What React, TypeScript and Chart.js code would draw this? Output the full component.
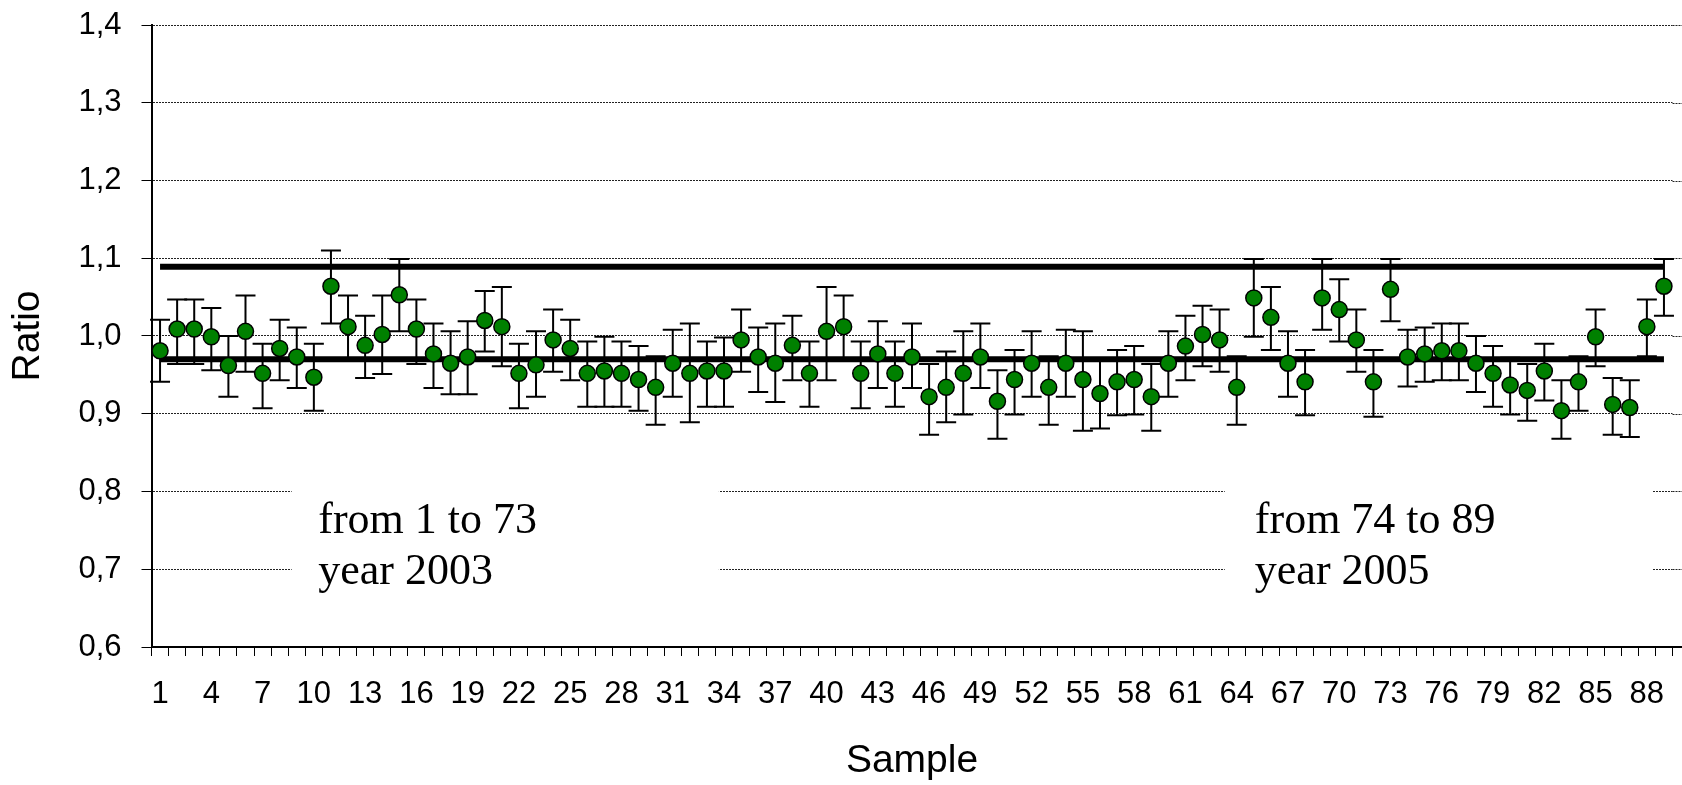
import React, { useEffect, useRef } from 'react';
import { Chart, registerables } from 'chart.js';

Chart.register(...registerables);

const samples: string[] = [
  '1', '2', '3', '4', '5', '6', '7', '8', '9', '10',
  '11', '12', '13', '14', '15', '16', '17', '18', '19', '20',
  '21', '22', '23', '24', '25', '26', '27', '28', '29', '30',
  '31', '32', '33', '34', '35', '36', '37', '38', '39', '40',
  '41', '42', '43', '44', '45', '46', '47', '48', '49', '50',
  '51', '52', '53', '54', '55', '56', '57', '58', '59', '60',
  '61', '62', '63', '64', '65', '66', '67', '68', '69', '70',
  '71', '72', '73', '74', '75', '76', '77', '78', '79', '80',
  '81', '82', '83', '84', '85', '86', '87', '88', '89',
];

const ratio: number[] = [
  0.981, 1.009, 1.009, 0.999, 0.962, 1.006, 0.952, 0.984, 0.973, 0.947,
  1.064, 1.012, 0.988, 1.002, 1.053, 1.009, 0.977, 0.965, 0.973, 1.020,
  1.012, 0.952, 0.963, 0.995, 0.984, 0.952, 0.955, 0.952, 0.944, 0.934,
  0.965, 0.952, 0.955, 0.955, 0.995, 0.973, 0.965, 0.988, 0.952, 1.006,
  1.012, 0.952, 0.977, 0.952, 0.973, 0.922, 0.934, 0.952, 0.973, 0.916,
  0.944, 0.965, 0.934, 0.965, 0.944, 0.926, 0.941, 0.944, 0.922, 0.965,
  0.987, 1.002, 0.995, 0.934, 1.049, 1.024, 0.965, 0.941, 1.049, 1.034,
  0.995, 0.941, 1.060, 0.973, 0.977, 0.981, 0.981, 0.965, 0.952, 0.937,
  0.930, 0.955, 0.904, 0.941, 0.999, 0.912, 0.908, 1.012, 1.064,
];

const errHigh: number[] = [
  1.021, 1.047, 1.047, 1.036, 1.000, 1.052, 0.990, 1.021, 1.011, 0.990,
  1.110, 1.052, 1.026, 1.052, 1.099, 1.047, 1.016, 1.006, 1.019, 1.058,
  1.063, 0.990, 1.006, 1.034, 1.021, 0.993, 0.999, 0.993, 0.987, 0.974,
  1.008, 1.016, 0.993, 0.998, 1.034, 1.011, 1.016, 1.026, 0.993, 1.063,
  1.052, 0.993, 1.019, 0.993, 1.016, 0.964, 0.980, 1.006, 1.016, 0.956,
  0.982, 1.006, 0.974, 1.008, 1.006, 0.969, 0.982, 0.987, 0.964, 1.006,
  1.026, 1.039, 1.034, 0.974, 1.099, 1.063, 1.006, 0.982, 1.099, 1.073,
  1.034, 0.982, 1.099, 1.008, 1.011, 1.016, 1.016, 1.000, 0.987, 0.972,
  0.964, 0.990, 0.943, 0.974, 1.034, 0.946, 0.943, 1.047, 1.099,
];

const errLow: number[] = [
  0.941, 0.964, 0.964, 0.956, 0.922, 0.954, 0.907, 0.943, 0.933, 0.904,
  1.016, 0.971, 0.946, 0.951, 1.006, 0.964, 0.933, 0.925, 0.925, 0.980,
  0.961, 0.907, 0.922, 0.954, 0.943, 0.909, 0.909, 0.909, 0.904, 0.886,
  0.922, 0.889, 0.909, 0.909, 0.954, 0.928, 0.915, 0.943, 0.909, 0.943,
  0.971, 0.907, 0.933, 0.909, 0.933, 0.873, 0.889, 0.899, 0.933, 0.868,
  0.899, 0.922, 0.886, 0.922, 0.878, 0.881, 0.898, 0.899, 0.878, 0.922,
  0.943, 0.961, 0.954, 0.886, 0.999, 0.982, 0.922, 0.898, 1.008, 0.993,
  0.954, 0.896, 1.019, 0.935, 0.941, 0.943, 0.943, 0.928, 0.909, 0.899,
  0.891, 0.917, 0.868, 0.904, 0.961, 0.873, 0.870, 0.974, 1.026,
];

const upperLimit = 1.089;
const lowerLimit = 0.970;

const yTicks: number[] = [0.6, 0.7, 0.8, 0.9, 1.0, 1.1, 1.2, 1.3, 1.4];

const noteA: string[] = ['from 1 to 73', 'year 2003'];
const noteB: string[] = ['from 74 to 89', 'year 2005'];

export default function App() {
  const ref = useRef<HTMLCanvasElement>(null);

  useEffect(() => {
    document.body.style.margin = '0';
    document.body.style.overflow = 'hidden';
    const canvas = ref.current;
    if (!canvas) return;

    const errorBars = {
      id: 'errorBars',
      beforeDatasetDraw(chart: any, args: any) {
        if (args.index !== 0) return;
        const xs = chart.scales.x;
        const ys = chart.scales.y;
        const c = chart.ctx;
        c.save();
        c.strokeStyle = '#000';
        c.lineWidth = 2;
        for (let i = 0; i < ratio.length; i++) {
          const px = xs.getPixelForValue(i);
          const yh = ys.getPixelForValue(errHigh[i]);
          const yl = ys.getPixelForValue(errLow[i]);
          c.beginPath();
          c.moveTo(px, yh);
          c.lineTo(px, yl);
          c.moveTo(px - 10, yh);
          c.lineTo(px + 10, yh);
          c.moveTo(px - 10, yl);
          c.lineTo(px + 10, yl);
          c.stroke();
        }
        c.restore();
      },
    };

    const notes = {
      id: 'notes',
      beforeDatasetsDraw(chart: any) {
        const xs = chart.scales.x;
        const ys = chart.scales.y;
        const c = chart.ctx;
        const area = chart.chartArea;
        c.save();
        c.strokeStyle = '#222';
        c.lineWidth = 1;
        c.setLineDash([2, 1]);
        for (const v of yTicks) {
          if (v === 0.6) continue;
          const py = Math.round(ys.getPixelForValue(v)) + 0.5;
          c.beginPath();
          c.moveTo(area.right, py);
          c.lineTo(chart.width, py);
          c.stroke();
        }
        c.setLineDash([]);
        c.strokeStyle = '#000';
        c.lineWidth = 2;
        c.beginPath();
        c.moveTo(area.right, area.bottom);
        c.lineTo(chart.width, area.bottom);
        c.stroke();

        const boxes = [
          { from: 7.7, to: 32.7, textAt: 9.26, lines: noteA },
          { from: 62.3, to: 87.3, textAt: 64.06, lines: noteB },
        ];
        const yTop = ys.getPixelForValue(0.822);
        const yBot = ys.getPixelForValue(0.66);
        const base1 = ys.getPixelForValue(0.7472);
        const base2 = ys.getPixelForValue(0.6807);
        for (const b of boxes) {
          const x1 = xs.getPixelForValue(b.from);
          const x2 = xs.getPixelForValue(b.to);
          c.fillStyle = '#fff';
          c.fillRect(x1, yTop, x2 - x1, yBot - yTop);
          c.fillStyle = '#000';
          c.font = '44px "Liberation Serif", "Times New Roman", serif';
          c.textAlign = 'left';
          c.textBaseline = 'alphabetic';
          const tx = xs.getPixelForValue(b.textAt);
          c.fillText(b.lines[0], tx, base1);
          c.fillText(b.lines[1], tx, base2);
        }
        c.restore();
      },
    };

    const chart = new Chart(canvas, {
      type: 'line',
      data: {
        labels: samples,
        datasets: [
          {
            label: 'Ratio',
            data: ratio,
            showLine: false,
            pointStyle: 'circle',
            pointRadius: 8,
            pointBorderWidth: 1.5,
            pointBorderColor: '#000',
            pointBackgroundColor: '#008000',
            borderColor: '#000',
            backgroundColor: '#008000',
          },
          {
            label: 'Upper',
            data: [
              { x: samples[0], y: upperLimit },
              { x: samples[samples.length - 1], y: upperLimit },
            ] as any,
            borderColor: '#000',
            borderWidth: 6,
            pointRadius: 0,
            fill: false,
          },
          {
            label: 'Lower',
            data: [
              { x: samples[0], y: lowerLimit },
              { x: samples[samples.length - 1], y: lowerLimit },
            ] as any,
            borderColor: '#000',
            borderWidth: 6,
            pointRadius: 0,
            fill: false,
          },
        ],
      },
      options: {
        animation: false,
        responsive: true,
        maintainAspectRatio: false,
        layout: { padding: { top: 25, right: 9, left: 0, bottom: 0 } },
        plugins: {
          legend: { display: false },
          tooltip: { enabled: false },
        },
        scales: {
          x: {
            type: 'category',
            offset: true,
            grid: {
              offset: true,
              drawOnChartArea: false,
              drawTicks: true,
              tickLength: 9,
              tickColor: '#000',
              lineWidth: 1,
              color: '#000',
            },
            border: { display: true, color: '#000', width: 2 },
            ticks: {
              autoSkip: false,
              maxRotation: 0,
              minRotation: 0,
              padding: 20,
              color: '#000',
              font: { family: '"Liberation Sans", Arial, sans-serif', size: 31 },
              callback: (_v: any, index: number) => (index % 3 === 0 ? samples[index] : ''),
            },
            title: {
              display: true,
              text: 'Sample',
              color: '#000',
              font: { family: '"Liberation Sans", Arial, sans-serif', size: 39 },
              padding: { top: 0, bottom: 0 },
            },
            afterFit: (scale: any) => {
              scale.height = 138;
              scale.paddingLeft = 0;
              scale.paddingRight = 0;
            },
          },
          y: {
            type: 'linear',
            min: 0.6,
            max: 1.4,
            grid: {
              color: '#222',
              lineWidth: 1,
              tickLength: 10,
              tickColor: '#000',
              tickBorderDash: [],
            },
            border: { display: true, color: '#000', width: 2, dash: [2, 1] },
            afterBuildTicks: (scale: any) => {
              scale.ticks = yTicks.map((v) => ({ value: v }));
            },
            ticks: {
              padding: 20,
              color: '#000',
              font: { family: '"Liberation Sans", Arial, sans-serif', size: 31 },
              callback: (v: any) => Number(v).toFixed(1).replace('.', ','),
            },
            title: {
              display: true,
              text: 'Ratio',
              color: '#000',
              font: { family: '"Liberation Sans", Arial, sans-serif', size: 39 },
              padding: { top: 5, bottom: 0 },
            },
            afterFit: (scale: any) => {
              scale.width = 151.5;
              scale.paddingTop = 0;
              scale.paddingBottom = 0;
            },
          },
        },
      },
      plugins: [errorBars, notes],
    });

    return () => chart.destroy();
  }, []);

  return (
    <div style={{ width: 1682, height: 785, position: 'relative' }}>
      <canvas ref={ref} />
    </div>
  );
}
